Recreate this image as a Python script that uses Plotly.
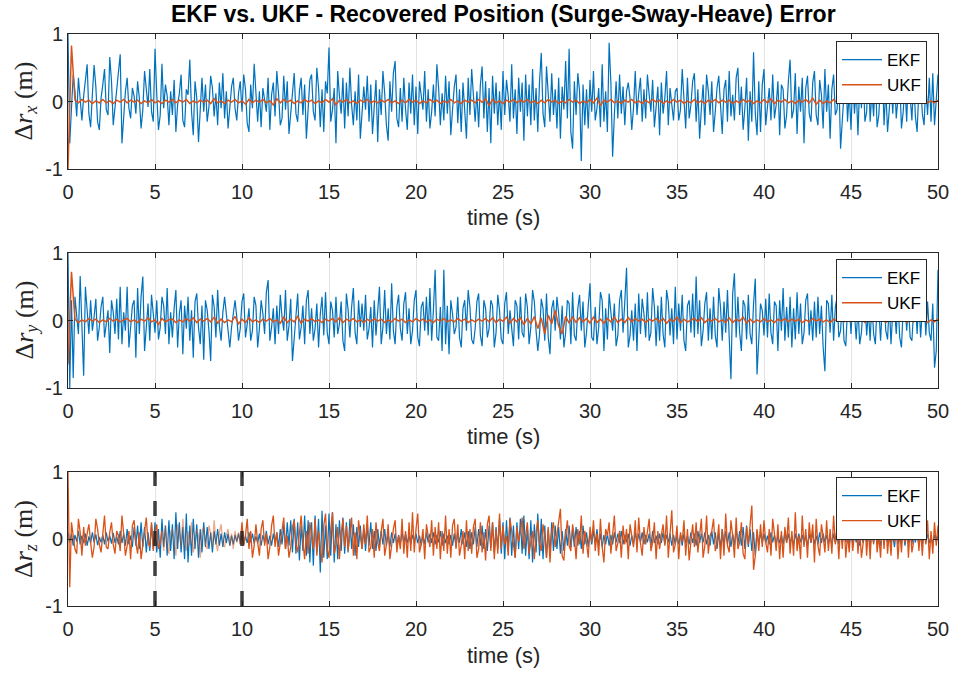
import numpy as np
import plotly.graph_objects as go

# ---------------- data (values in hundredths of a metre) ----------------
DT_FAST = 0.1   # s, sampling of EKF series and UKF heave
DT_SLOW = 0.2   # s, sampling of the (nearly flat) UKF surge / sway series

ekf_x = [
    100, -62, -10, 40, 15, -22, 35, -5, -28, 8,
    30, 55, -18, -38, 10, 54, 22, -30, -42, 5,
    25, 48, -12, -20, 66, 30, -35, -8, 10, 42,
    70, -62, -20, 15, 35, -10, -25, 20, 8, -18,
    30, 5, -40, -12, 45, 22, -8, 48, -15, -30,
    78, 12, -42, -20, 56, -10, 25, 8, -35, 15,
    -20, 32, -45, -5, 12, 40, -28, -38, 18, 10,
    62, -15, -50, 30, 5, -60, -20, 35, -15, 25,
    -30, -8, 38, 20, -22, 12, -35, 28, -10, 42,
    -25, 15, -40, -12, 22, 35, -10, -28, 12, 30,
    -15, 40, 18, -32, -45, 25, -10, 56, 8, -30,
    15, -38, 20, 5, -15, 35, -42, 10, 28, -22,
    45, 12, -35, -25, 38, -12, 30, -48, -15, 20,
    42, -18, -30, 15, 35, -20, 25, -55, -10, 32,
    40, -15, -28, 50, 20, -38, 18, -45, 30, 12,
    80, -30, -12, 20, -62, 45, 8, -18, 35, -40,
    28, -22, 50, -5, -35, 15, -28, 40, -55, -20,
    22, -12, 38, -30, 25, -48, -10, 32, -60, 18,
    -20, 45, 12, -35, -58, 30, -15, 42, 60, -25,
    -38, 20, -30, 35, -12, -42, 28, -18, 40, -35,
    22, -48, 30, 5, -12, 45, -30, 18, -40, -15,
    25, -22, 55, 20, -35, 12, -28, 38, -18, 30,
    -50, -12, 22, 40, -32, 18, -45, 28, -10, -55,
    35, -20, 48, 10, -30, 15, -38, 25, 52, -25,
    30, -45, 20, -62, 38, -18, 28, -35, 15, -42,
    45, -20, 32, 8, -30, 55, -25, 18, -48, 35,
    -15, 28, -58, 40, -22, 25, -35, 48, -28, 20,
    -45, 30, 72, -18, -38, 52, 15, -30, 42, -20,
    18, -40, 35, -55, 22, -12, 60, -25, 78, -45,
    -70, 30, -20, 42, 15, -88, 25, -35, 18, -40,
    32, -15, 45, -28, -10, 20, -38, 55, -30, 15,
    -45, 87, 28, -82, -20, 30, -25, 40, -18, 22,
    -35, 15, 28, 5, -42, -10, 45, -20, 12, 35,
    -30, 18, -25, 40, 10, -15, 32, -38, -8, 22,
    -50, 28, -18, 5, 45, -35, 20, -10, -28, 15,
    20, -28, -12, 48, 10, -40, 35, -25, -5, 30,
    42, -30, 18, -55, -10, 25, -35, 40, 15, -20,
    30, -45, -15, 20, 38, -15, -48, 18, 32, -30,
    45, -22, 10, -28, 35, 50, -20, 22, -42, -10,
    35, -58, 15, -30, 73, -18, -50, 30, -45, 25,
    48, -35, -10, 20, -28, 40, -25, -5, 30, -50,
    25, 18, -40, -20, 30, 62, -25, -12, 42, -48,
    22, -15, 35, -62, 20, 38, -18, -30, 28, 45,
    -20, -35, 32, 10, -40, 48, -15, 25, -55, 18,
    40, -20, -12, 38, -70, -25, 28, 55, -30, 15,
    -42, 35, -18, 22, -50, 28, -10, 45, -30, -15,
    58, -30, 15, -22, 40, -38, -20, 30, 48, -35,
    20, -45, -12, 32, -18, 40, -25, 10, 35, -40,
    -15, 25, -30, 42, 12, -28, 38, -22, -45, 20,
    30, -18, -35, 25, -20, 35, -30, 42, -35, 10,
    40,
]

ukf_x = [
    -100, 83, 2, -2, 3, -1, 2, -3, 1, -2,
    3, -2, 1, -3, 2, -1, 3, -2, 2, -1,
    2, -3, 1, -2, 3, -2, 1, -3, 2, -1,
    3, -2, 2, -1, 3, -3, 1, -2, 2, -1,
    2, -3, 4, -2, 1, -3, 2, -1, 3, -2,
    1, -4, 3, -2, 2, -1, 3, -2, 1, -5,
    4, -2, 3, -1, 2, -3, 1, -2, 3, -1,
    2, -3, 1, -2, 3, -1, 4, -5, 2, -1,
    3, -2, 1, -3, 2, -1, 3, -2, 1, -2,
    2, -1, 3, -2, 1, -3, 2, -2, 3, -1,
    2, -3, 1, -2, 3, -1, 2, -3, 1, -2,
    3, -2, 1, -3, 2, -1, 2, -2, 3, -1,
    4, -6, 3, -2, 1, -3, 2, -1, 3, -2,
    2, -1, 3, -2, 1, -3, 2, -2, 3, -1,
    2, -3, 1, -2, 3, -1, 2, -3, 1, -2,
    3, -2, 5, -6, 2, -1, 3, -2, 1, -3,
    2, -1, 3, -2, 1, -3, 2, -2, 3, -1,
    2, -3, 1, -2, 3, -1, 2, -3, 1, -2,
    3, -2, 1, -3, 2, -1, 3, -2, 2, -1,
    2, -3, 1, -2, 3, -1, 2, -3, 1, -2,
    3, -2, 4, -3, 2, -1, 3, -2, 1, -3,
    2, -1, 3, -2, 5, -4, 2, -3, 1, -2,
    3, -2, 1, -3, 2, -1, 3, -2, 2, -1,
    2, -3, 1, -2, 3, -1, 2, -3, 1, -2,
    3, -2, 1, -3, 2, -1, 3, -2, 1, -2,
    2,
]

ekf_y = [
    100, -100, 30, -85, 35, 10, -20, 66, -15, -82,
    50, 20, -20, 30, -15, 5, 32, -30, -10, 20,
    35, -25, -8, 15, -48, 30, 12, -20, 32, -28,
    50, -35, 12, -15, 50, -40, -10, 22, 30, -55,
    48, -20, 35, 65, -45, -12, 25, -30, 38, 10,
    -18, 30, -28, -10, 35, 22, -20, 48, -35, 12,
    -25, 18, 45, -40, 10, 30, -50, 22, -12, 35,
    -30, 15, -55, 28, 40, -10, -35, 22, -58, 30,
    15, -15, -60, 38, 20, -25, 45, -8, -30, 12,
    35, 10, -18, -40, -10, 15, 30, 5, -30, -12,
    28, 40, -25, -5, 18, -30, -15, 35, 22, -40,
    -12, 30, 10, -20, 42, 60, -30, -10, 18, -35,
    22, -20, 38, 5, -15, 45, -30, -8, 32, -60,
    -25, 15, 40, -28, -10, 22, -35, 30, 45, -20,
    18, -30, -12, 25, -40, 10, 35, -22, 42, -18,
    -35, 28, 15, -25, 35, -20, -5, 28, -30, -45,
    40, 15, -25, 20, 48, -18, -35, 30, -10, 25,
    -15, 38, -28, -12, 20, -40, 30, -22, 15, 50,
    -35, -10, 45, -20, 18, -28, 55, -15, -35, 20,
    38, -12, -30, 25, 42, -20, 18, -35, -15, 30,
    45, -25, -38, 20, 28, -15, 35, -22, 48, -30,
    15, 75, -25, -30, 20, -45, 75, -35, 22, -50,
    30, 10, -20, -10, 35, -25, -40, 18, 30, -15,
    45, 20, -28, -35, -12, 28, 40, -22, -38, 30,
    18, -25, -12, 30, 22, -40, -18, 38, 15, -28,
    -35, 25, 42, -20, 15, -15, -38, 30, 22, -28,
    35, -18, -25, 40, 20, -35, -10, 45, 28, -15,
    -45, -20, 32, 18, -30, 40, -25, -50, 18, 30,
    -15, 35, 10, -28, 22, -40, -18, 30, 25, -35,
    42, -22, -30, 18, 38, -15, 28, -40, -18, 22,
    55, -25, -30, 20, -35, -10, 42, 30, -45, 18,
    -28, 40, 15, -15, 25, -38, -22, 30, 45, -18,
    28, 78, -40, -22, 15, -30, 25, -45, 40, -20,
    32, 10, -25, 42, -30, -18, 48, 20, -38, 22,
    -30, 35, -20, -40, 45, 28, -22, 18, -35, 50,
    -28, 25, -15, 38, -30, -45, 22, 30, -18, 40,
    -25, 65, -20, 30, -38, -15, 25, 42, -30, 18,
    -28, 35, -22, -40, 48, 20, -30, 28, -18, 45,
    -25, -87, 40, 70, -25, 35, -18, -45, 30, 22,
    -28, 38, -20, -35, 25, 62, -80, -30, 25, 15,
    -22, 32, -25, 40, -18, -35, 28, 22, -45, 30,
    -15, 48, -30, 20, -25, 35, -40, 18, -28, 42,
    -20, 25, -35, -18, 30, 40, -22, 15, -30, 28,
    -25, 35, -20, 22, -40, -75, 30, 25, -18, 38,
    -30, 20, 35, -25, -15, 28, -30, -38, 18, 25,
    -20, 32, 10, -28, 20, -35, -18, 25, 30, -22,
    15, -30, 28, -20, -35, 25, 18, -30, 22, 35,
    -15, -28, 25, -35, 15, 20, -20, 30, -25, -40,
    18, 30, -15, 22, -25, -30, 15, 28, -20, 35,
    -25, 15, 35, -22, 28, -18, -30, 25, -70, -45,
    75,
]

ukf_y = [
    -65, 72, 2, -3, 1, -2, 3, -1, 2, -3,
    1, -2, 3, -1, 2, -2, 1, 3, -2, 1,
    -3, 2, -1, 4, -2, 1, -6, 3, -2, 1,
    2, -3, 1, -2, 3, -1, 4, -3, 2, -1,
    3, -2, 5, -4, 2, -3, 1, -2, 6, -5,
    2, -3, 4, -2, 1, -3, 2, -1, 3, -2,
    1, -4, 5, -3, 2, -2, 6, -4, 2, -1,
    3, -2, 1, -3, 2, -1, 3, -2, 4, -3,
    2, -1, 3, -2, 1, -3, 2, -2, 3, -1,
    2, -3, 1, -2, 3, -1, 2, -3, 1, -2,
    3, -1, 2, -2, 1, -3, 2, -1, 3, -2,
    1, -2, 3, -1, 2, -3, 1, -2, 2, -1,
    3, -2, 4, -3, 2, -1, 5, -4, 3, -2,
    4, -6, 3, -5, 6, -12, 4, -20, 8, -5,
    15, -8, -20, 6, -4, 5, -3, 4, -2, 3,
    -4, 5, -3, 2, -4, 3, -2, 5, -3, 2,
    -3, 4, -2, 3, -1, 2, -3, 2, -1, 3,
    -2, 3, -4, 2, -1, 5, -3, 2, -2, 1,
    3, -2, 4, -3, 2, -1, 3, -2, 1, -3,
    4, -3, 2, -1, 5, -4, 2, -3, 1, -2,
    3, -2, 1, -3, 2, -1, 3, -2, 2, -1,
    2, -3, 1, -2, 3, -1, 2, -2, 1, -3,
    2, -1, 3, -2, 1, -2, 3, -1, 2, -3,
    1, -2, 3, -1, 2, -3, 1, -2, 3, -1,
    2, -3, 1, -2, 3, -1, 2, -3, 1, -2,
    2,
]

ekf_z = [
    10, -5, 8, -10, 6, -4, 12, -8, 5, -6,
    8, -10, 4, -6, 10, -5, 7, -9, 3, -5,
    6, -8, 10, -4, 5, -7, 9, -6, 4, -8,
    12, -6, 8, -10, 15, -8, 5, -12, 18, -10,
    20, -15, 25, -12, 18, -20, 10, -18, 22, -15,
    25, -20, 15, -28, 30, -12, 20, -25, 28, -18,
    22, -30, 40, -15, 25, -20, 18, -30, 38, -35,
    20, -25, 30, -15, 22, -28, 15, -20, 25, -12,
    18, -15, 10, -20, 12, -8, 15, -10, 8, -12,
    10, -6, 8, -10, 5, -8, 6, -4, 8, -5,
    6, -8, 5, -6, 10, -5, 8, -7, 4, -6,
    8, -10, 6, -5, 12, -8, 5, -10, 8, -6,
    10, -12, 15, -8, 20, -15, 25, -10, 28, -20,
    30, -22, 25, -32, 20, -18, 35, -25, 28, -35,
    25, -40, 35, -20, 30, -50, 42, -28, 20, -30,
    38, -25, 40, -35, 22, -30, 28, -18, 32, -22,
    25, -20, 30, -15, 22, -25, 18, -12, 20, -15,
    15, -18, 20, -10, 25, -15, 12, -18, 15, -10,
    12, -8, 15, -10, 8, -12, 10, -6, 8, -10,
    6, -8, 10, -5, 8, -6, 5, -8, 6, -4,
    8, -6, 5, -10, 6, -8, 10, -5, 8, -6,
    10, -8, 6, -5, 12, -10, 8, -6, 5, -8,
    6, -10, 8, -12, 10, -6, 15, -8, 10, -12,
    12, -15, 10, -8, 18, -12, 15, -10, 20, -15,
    15, -18, 20, -12, 25, -20, 18, -15, 30, -22,
    25, -30, 28, -18, 32, -25, 20, -28, 25, -15,
    30, -22, 35, -25, 18, -30, 28, -35, 22, -20,
    38, -25, 30, -30, 20, -28, 15, -22, 25, -18,
    20, -15, 18, -22, 12, -18, 15, -10, 20, -12,
    15, -12, 18, -10, 12, -15, 20, -8, 10, -12,
    10, -8, 12, -6, 15, -10, 8, -12, 6, -8,
    8, -10, 6, -8, 10, -5, 8, -6, 12, -8,
    6, -5, 8, -10, 5, -8, 10, -6, 8, -5,
    10, -8, 6, -5, 8, -10, 12, -6, 5, -8,
    8, -6, 10, -8, 6, -5, 8, -10, 6, -8,
    5, -8, 6, -10, 8, -6, 5, -8, 10, -6,
    8, -10, 12, -6, 8, -5, 10, -8, 6, -10,
    12, -8, 10, -15, 8, -12, 15, -10, 12, -8,
    10, -12, 8, -10, 15, -8, 12, -10, 18, -15,
    20, -12, 15, -18, 10, -25, 12, -8, 10, -6,
    8, -6, 5, -8, 10, -5, 6, -8, 5, -6,
    6, -8, 10, -5, 8, -6, 5, -10, 8, -5,
    8, -5, 6, -8, 5, -10, 8, -6, 10, -8,
    5, -8, 10, -6, 8, -5, 6, -8, 5, -10,
    8, -6, 5, -8, 10, -6, 8, -5, 6, -8,
    10, -8, 6, -5, 8, -10, 5, -6, 8, -5,
    6, -10, 8, -6, 12, -8, 5, -10, 8, -6,
    8, -5, 10, -8, 6, -12, 15, -8, 10, -6,
    12, -10, 8, -6, 10, -8, 12, -5, 8, -10,
    6, -8, 10, -5, 8, -6, 5, -8, 6, -4,
    5,
]

ukf_z = [
    100, -72, 25, 5, -15, -22, 30, 10, -25, 18,
    -10, 8, 22, -5, -28, -12, 30, 15, -8, -20,
    5, 35, -12, -15, 10, 25, -8, -22, 12, 5,
    -18, 35, 8, -25, -10, 12, -30, 20, 28, -5,
    -22, 10, -30, -8, 15, 32, -5, -12, 25, -18,
    8, 22, -15, -5, 12, -18, 20, -10, -22, 10,
    15, -8, -25, 22, 10, -12, 30, -5, -18, 12,
    -10, 25, -20, -8, 15, 5, -28, 12, 18, -10,
    -15, 20, 8, -12, 28, -5, -18, 10, 22, -8,
    -12, 5, 15, -10, 8, -15, 12, -5, 10, -8,
    25, -10, 5, 30, -15, 12, -28, -10, 22, -5,
    -25, 15, 28, -10, 8, -30, -12, 20, 35, -12,
    10, -25, -5, 20, 32, -15, 5, -28, -12, 18,
    28, -8, -20, 10, 35, -5, -30, 12, -22, 25,
    8, -15, 30, -25, 12, -10, -35, 20, 38, -15,
    -28, 15, 40, -22, -10, 18, -30, 8, 30, -12,
    20, -18, 5, 32, -25, 10, -30, 28, 5, -15,
    22, -8, 35, -20, -12, 15, -28, 25, -5, -18,
    12, 30, -25, -8, 22, -30, -10, 15, 28, -20,
    5, -15, 30, -22, 12, -28, 25, -18, 40, -20,
    15, 38, -20, -8, 15, -30, 22, 5, -12, 28,
    -25, 18, -15, 25, -30, 12, -18, 35, -22, 15,
    -28, 20, 30, -15, 22, -25, -10, 12, -30, 28,
    -18, 15, -22, 18, 30, -28, -15, 25, -20, 10,
    -32, 22, 35, -18, 25, -30, 15, -22, 38, -15,
    20, -8, 5, -25, 30, 12, -6, -28, 18, -4,
    10, 32, -15, 2, 25, -22, -5, 12, -30, 8,
    28, -6, -18, 22, 5, -28, 18, -35, 10, 25,
    -12, 8, 30, 45, -25, -32, 6, 28, -10, -18,
    22, 4, -30, 15, -8, 35, -22, 12, -6, -28,
    18, -5, 28, -18, 8, -25, 30, -12, -35, 15,
    5, 25, -22, 10, 35, -18, -6, 12, -28, 20,
    -8, 15, -30, 22, 4, -12, 28, -20, 32, -6,
    -25, 18, -8, 10, 30, -18, -5, 25, -30, 12,
    -15, 6, 22, -10, 35, -28, 12, 43, -20, -8,
    20, -30, 10, -5, 28, -25, 15, -32, -4, 22,
    -12, 25, -20, 8, 30, -28, -10, 35, -22, 5,
    12, 30, -18, -6, 22, -30, 15, -25, 38, -10,
    -20, 28, 5, -28, 32, -15, -5, 25, -22, -30,
    18, -8, 20, 50, -46, -25, 15, -18, 22, -12,
    28, -5, -20, 15, -25, 30, 8, -18, 22, -30,
    12, -28, 18, -6, 32, -22, 12, -25, 40, -18,
    5, -30, 35, -12, 15, -28, 25, -5, 22, -35,
    30, -10, -25, 22, 4, -20, 28, -18, 15, -22,
    35, -8, 18, -30, 22, -15, 30, -28, 6, -20,
    25, -18, 8, 30, -22, 15, -28, -6, 28, -25,
    18, -30, 22, -8, 35, -20, 5, -28, 25, -15,
    30, -22, 10, -25, 28, -5, 20, -30, 12, -20,
    22, -6, 32, -28, 18, -20, -4, 25, 30, -18,
    15, -25, 20, -8, 28, -30, 12, -22, 25, -10,
    20,
]

faded_window = [5.4, 9.9]        # s, UKF heave drawn lighter here
event_times = [5, 10]            # s, dashed markers in the heave panel
x_ticks = [0, 5, 10, 15, 20, 25, 30, 35, 40, 45, 50]
y_ticks = [-1, 0, 1]
y_tick_text = ["-1", "0", "1"]
title_text = "EKF vs. UKF - Recovered Position (Surge-Sway-Heave) Error"
y_titles = ["Δ<i>r</i><sub><i>x</i></sub> (m)",
            "Δ<i>r</i><sub><i>y</i></sub> (m)",
            "Δ<i>r</i><sub><i>z</i></sub> (m)"]
x_title = "time (s)"

# ---------------- figure ----------------
W, H = 955, 674
BLUE = "#0072BD"
ORANGE = "#D95319"
AX = "#262626"
SANS = "Liberation Sans, Arial, sans-serif"
SERIF = "Liberation Serif, DejaVu Serif, serif"


def py(v):
    return 1 - v / H


x_dom = [68 / W, 938 / W]
panels = [(34, 169), (253, 388), (472, 606)]
legend_top = [41, 259, 477]
xtitle_y = [217, 436, 655]


def to_m(vals):
    return np.asarray(vals, dtype=float) / 100.0


def times(vals, dt):
    return np.arange(len(vals)) * dt


series = [
    (to_m(ekf_x), DT_FAST, to_m(ukf_x), DT_SLOW),
    (to_m(ekf_y), DT_FAST, to_m(ukf_y), DT_SLOW),
    (to_m(ekf_z), DT_FAST, to_m(ukf_z), DT_FAST),
]

fig = go.Figure()
layout = dict(
    width=W, height=H, autosize=False, margin=dict(l=0, r=0, t=0, b=0, pad=0),
    paper_bgcolor="white", plot_bgcolor="white",
    font=dict(family=SANS, color=AX, size=18),
    showlegend=True,
)
annotations = []
shapes = []

for i, ((ek, dte, uk, dtu), (top, bot)) in enumerate(zip(series, panels)):
    n = "" if i == 0 else str(i + 1)
    xa, ya = "x" + n, "y" + n
    lg = "legend" + n
    te, tu = times(ek, dte), times(uk, dtu)
    fig.add_trace(go.Scatter(x=te, y=ek, mode="lines", name="EKF",
                             line=dict(color=BLUE, width=1.2),
                             xaxis=xa, yaxis=ya, legend=lg, hoverinfo="skip"))
    if i < 2:
        fig.add_trace(go.Scatter(x=tu, y=uk, mode="lines", name="UKF",
                                 line=dict(color=ORANGE, width=1.5),
                                 xaxis=xa, yaxis=ya, legend=lg, hoverinfo="skip"))
    else:
        a, b = faded_window
        ins = (tu >= a - 1e-9) & (tu <= b + 1e-9)
        before = tu <= a + 1e-9
        after = tu >= b - 1e-9
        fig.add_trace(go.Scatter(x=tu[before], y=uk[before], mode="lines", name="UKF",
                                 line=dict(color=ORANGE, width=1.3),
                                 xaxis=xa, yaxis=ya, legend=lg, hoverinfo="skip"))
        fig.add_trace(go.Scatter(x=tu[ins], y=uk[ins], mode="lines", name="UKF",
                                 line=dict(color=ORANGE, width=1.3), opacity=0.5,
                                 xaxis=xa, yaxis=ya, legend=lg, showlegend=False,
                                 hoverinfo="skip"))
        fig.add_trace(go.Scatter(x=tu[after], y=uk[after], mode="lines", name="UKF",
                                 line=dict(color=ORANGE, width=1.3),
                                 xaxis=xa, yaxis=ya, legend=lg, showlegend=False,
                                 hoverinfo="skip"))
        for et in event_times:
            shapes.append(dict(type="line", xref=xa, yref=ya, x0=et, x1=et,
                               y0=-1, y1=1,
                               line=dict(color="rgba(30,30,30,0.85)", width=3.5,
                                         dash="15px,15px")))

    layout["xaxis" + n] = dict(
        domain=x_dom, anchor=ya, range=[0, 50], tickvals=x_ticks,
        showgrid=True, gridcolor="#e3e3e3", gridwidth=1, zeroline=False,
        showline=True, linecolor=AX, linewidth=1, mirror="ticks",
        ticks="inside", ticklen=5, tickcolor=AX, tickwidth=1, automargin=False,
        tickfont=dict(family=SANS, size=20, color=AX), ticklabelstandoff=5,
    )
    layout["yaxis" + n] = dict(
        domain=[py(bot), py(top)], anchor=xa, range=[-1, 1],
        tickvals=y_ticks, ticktext=y_tick_text,
        showgrid=False, zeroline=False, automargin=False,
        showline=True, linecolor=AX, linewidth=1, mirror="ticks",
        ticks="inside", ticklen=5, tickcolor=AX, tickwidth=1,
        tickfont=dict(family=SANS, size=20, color=AX),
    )
    layout[lg] = dict(
        x=927 / W, xanchor="right", y=py(legend_top[i]), yanchor="top",
        bgcolor="white", bordercolor=AX, borderwidth=1,
        font=dict(family=SANS, size=17, color="black"),
        itemwidth=40, tracegroupgap=0,
    )
    annotations.append(dict(
        text=y_titles[i], xref="paper", yref="paper",
        x=25 / W, y=py((top + bot) / 2), xanchor="center", yanchor="middle",
        textangle=-90, showarrow=False,
        font=dict(family=SERIF, size=26, color=AX),
    ))
    annotations.append(dict(
        text=x_title, xref="paper", yref="paper",
        x=(68 + 938) / 2 / W, y=py(xtitle_y[i]), xanchor="center", yanchor="middle",
        showarrow=False, font=dict(family=SANS, size=22, color=AX),
    ))

annotations.append(dict(
    text="<b>" + title_text + "</b>", xref="paper", yref="paper",
    x=(68 + 938) / 2 / W, y=py(14), xanchor="center", yanchor="middle",
    showarrow=False, font=dict(family=SANS, size=23, color="black"),
))

layout["annotations"] = annotations
layout["shapes"] = shapes
fig.update_layout(**layout)
fig.write_html("out.html", config={"responsive": False})
